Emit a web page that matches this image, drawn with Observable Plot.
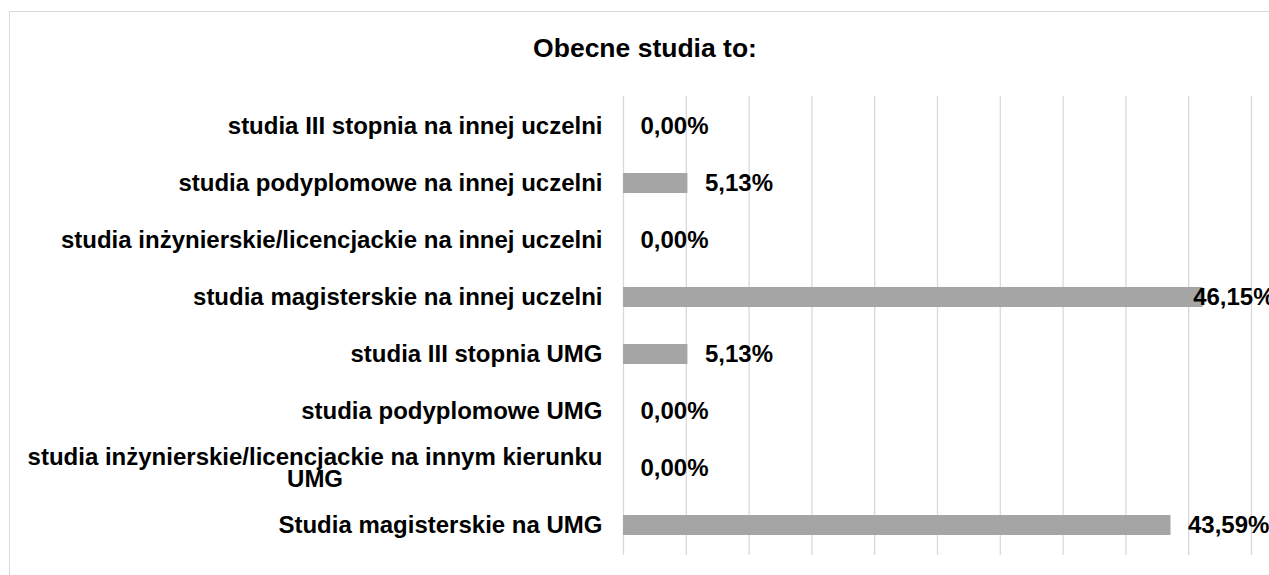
<!DOCTYPE html>
<html><head><meta charset="utf-8">
<script src="https://cdn.jsdelivr.net/npm/d3@7"></script>
<script src="https://cdn.jsdelivr.net/npm/@observablehq/plot@0.6"></script>
<style>
body{margin:0;background:#fff;font-family:"Liberation Sans",Arial,sans-serif;overflow:hidden;}
#frame{position:absolute;left:9px;top:11px;width:1400px;height:700px;border:1px solid #d9d9d9;}
#title{position:absolute;left:0;width:1290px;top:33px;line-height:30px;text-align:center;font-weight:bold;font-size:26.5px;color:#000;}
#chart{position:absolute;left:0;top:0;}
</style></head><body>
<div id="frame"></div>
<div id="title">Obecne studia to:</div>
<div id="chart"></div>
<script>
const categories = [
  "studia III stopnia na innej uczelni",
  "studia podyplomowe na innej uczelni",
  "studia inżynierskie/licencjackie na innej uczelni",
  "studia magisterskie na innej uczelni",
  "studia III stopnia UMG",
  "studia podyplomowe UMG",
  "studia inżynierskie/licencjackie na innym kierunku\nUMG",
  "Studia magisterskie na UMG"
];
const values = [0.00, 5.13, 0.00, 46.15, 5.13, 0.00, 0.00, 43.59];
const gridTicks = [0, 5, 10, 15, 20, 25, 30, 35, 40, 45, 50];

const data = categories.map((c, i) => ({category: c, value: values[i]}));
const fmt = d => d.value.toFixed(2).replace(".", ",") + "%";

const chart = Plot.plot({
  width: 1269,
  height: 575,
  marginTop: 96,
  marginBottom: 20,
  marginLeft: 623,
  marginRight: 18,
  style: {fontFamily: "'Liberation Sans', Arial, sans-serif", background: "transparent", color: "#000"},
  x: {domain: [0, 50], axis: null},
  y: {domain: categories, axis: null, paddingInner: 0.65, paddingOuter: 0.325},
  marks: [
    Plot.ruleX(gridTicks, {x: d => d, stroke: "#d9d9d9", strokeWidth: 1.3}),
    Plot.barX(data, {x: "value", y: "category", fill: "#a5a5a5"}),
    Plot.text(data, {y: "category", text: "category", frameAnchor: "left", textAnchor: "end", dx: -21,
      fontSize: 24, fontWeight: "bold", lineHeight: 0.92, fill: "#000"}),
    Plot.text(data.filter(d => d.value <= 45), {x: "value", y: "category", text: fmt, textAnchor: "start", dx: 17,
      fontSize: 24, fontWeight: "bold", fill: "#000"}),
    Plot.text(data.filter(d => d.value > 45), {x: "value", y: "category", text: fmt, textAnchor: "start", dx: -10,
      fontSize: 24, fontWeight: "bold", fill: "#000"})
  ]
});
document.getElementById("chart").append(chart);
chart.querySelectorAll("text").forEach(t => {
  const spans = t.querySelectorAll("tspan");
  if (spans.length > 1) {
    const w = Math.max(...[...spans].map(s => s.getComputedTextLength()));
    t.setAttribute("text-anchor", "middle");
    spans.forEach(s => s.setAttribute("x", -w / 2));
  }
});
</script>
</body></html>
